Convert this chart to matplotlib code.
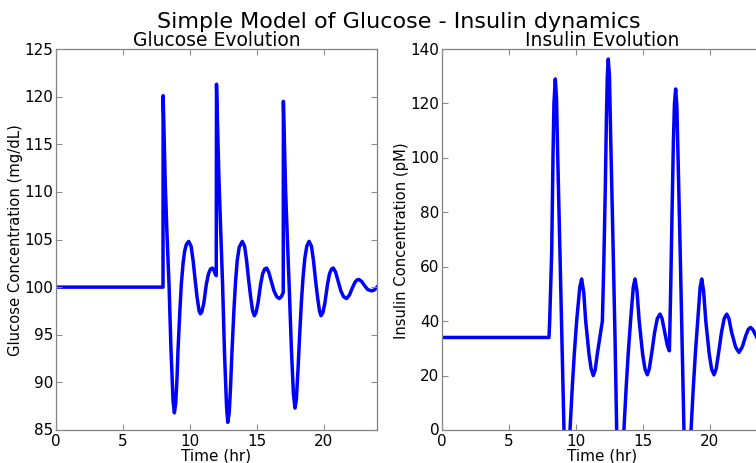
import matplotlib
matplotlib.use("Agg")
import matplotlib.pyplot as plt

# ---------------- data ----------------
glucose_t = [0.0, 8.0, 8.01, 8.17, 8.3, 8.45, 8.6, 8.75, 8.85, 8.95, 9.05, 9.12, 9.25, 9.37,
             9.5, 9.62, 9.75, 9.92, 10.1, 10.25, 10.4, 10.55, 10.7, 10.79, 10.9, 11.05,
             11.24, 11.4, 11.55, 11.69, 11.8, 11.9, 11.98, 12.0,
             12.17, 12.3, 12.45, 12.6, 12.75, 12.84, 12.95, 13.05, 13.15, 13.3, 13.42,
             13.55, 13.7, 13.93, 14.1, 14.25, 14.4, 14.55, 14.7, 14.83, 14.95, 15.1, 15.3,
             15.45, 15.6, 15.75, 15.9, 16.1, 16.3, 16.5, 16.7, 16.85, 16.99, 17.0,
             17.17, 17.3, 17.45, 17.6, 17.75, 17.87, 17.97, 18.1, 18.2, 18.35, 18.47,
             18.6, 18.75, 18.92, 19.1, 19.25, 19.4, 19.55, 19.7, 19.81, 19.95, 20.1, 20.3,
             20.45, 20.6, 20.73, 20.9, 21.1, 21.3, 21.5, 21.73, 21.95, 22.15, 22.35, 22.5,
             22.65, 22.85, 23.05, 23.3, 23.6, 23.8, 24.0]
glucose_v = [100.0, 100.0, 120.1, 110.8, 105.5, 100.3, 93.3, 88.1, 86.8, 87.8, 90.5, 93.3, 97.2, 100.3,
             102.5, 103.8, 104.5, 104.8, 104.3, 102.8, 100.8, 98.9, 97.5, 97.2, 97.4, 98.3,
             100.3, 101.4, 101.9, 102.0, 101.8, 101.4, 101.2, 121.3,
             112.0, 106.5, 100.5, 93.0, 87.5, 85.8, 86.8, 89.5, 93.0, 97.5, 100.5,
             102.8, 104.2, 104.8, 104.3, 102.8, 100.8, 99.0, 97.5, 97.0, 97.3, 98.3, 100.3,
             101.4, 101.9, 102.0, 101.6, 100.6, 99.6, 99.0, 98.8, 99.0, 99.45, 119.5,
             110.0, 105.0, 99.5, 93.5, 88.8, 87.3, 88.2, 91.5, 94.5, 98.5, 101.0,
             103.0, 104.3, 104.8, 104.3, 102.8, 100.8, 99.0, 97.5, 97.0, 97.3, 98.3, 100.3,
             101.4, 101.9, 102.0, 101.6, 100.6, 99.6, 99.0, 98.8, 99.2, 99.9, 100.5, 100.75,
             100.8, 100.6, 100.2, 99.75, 99.6, 99.7, 100.0]

insulin_t = [0.0, 8.0, 8.05, 8.2, 8.3, 8.37, 8.47, 8.56, 8.65, 8.82, 8.99, 9.12, 9.32, 9.57,
             9.74, 9.89, 10.07, 10.3, 10.44, 10.6, 10.74, 10.99, 11.15, 11.31, 11.45, 11.61,
             11.8, 11.99, 12.1, 12.21, 12.29, 12.36, 12.43, 12.52, 12.61, 12.78, 12.94, 13.06,
             13.33, 13.6, 13.77, 13.92, 14.1, 14.3, 14.43, 14.58, 14.74, 15.0, 15.18, 15.35,
             15.5, 15.7, 15.9, 16.1, 16.3, 16.45, 16.65, 16.85, 17.0, 17.1, 17.2, 17.3,
             17.38, 17.47, 17.56, 17.65, 17.82, 17.97, 18.09, 18.35, 18.62, 18.79, 18.94,
             19.12, 19.3, 19.42, 19.56, 19.72, 19.98, 20.16, 20.34, 20.5, 20.7, 20.9, 21.1,
             21.29, 21.45, 21.65, 21.95, 22.2, 22.45, 22.7, 22.9, 23.07, 23.25, 23.48, 23.7,
             24.0]
insulin_v = [34.0, 34.0, 40.0, 65.0, 101.0, 120.0, 129.0, 122.0, 101.0, 65.0, 28.0, 0.0, -14.0, 0.0,
             15.7, 27.9, 40.2, 52.4, 55.5, 50.5, 40.2, 27.9, 22.5, 20.0, 22.0, 27.9,
             34.0, 40.0, 62.0, 89.0, 114.0, 130.0, 136.3, 130.0, 108.0, 70.0, 33.0, 0.0,
             -15.0, 0.0, 15.7, 27.9, 40.2, 52.4, 55.5, 51.0, 40.2, 27.9, 22.3, 20.3,
             22.5, 29.0, 36.0, 41.0, 42.6, 41.0, 36.0, 31.0, 29.1, 52.0, 80.0, 106.0,
             120.0, 125.3, 119.0, 100.0, 63.0, 28.0, 0.0, -15.0, 0.0, 15.7, 27.9,
             40.2, 52.4, 55.5, 51.0, 40.2, 27.9, 22.3, 20.3, 22.5, 29.0, 36.0, 41.0,
             42.6, 41.0, 36.0, 30.5, 28.5, 30.5, 34.5, 37.0, 37.7, 36.8, 34.6, 32.5,
             31.0]

x_ticks = [0, 5, 10, 15, 20]
glucose_yticks = [85, 90, 95, 100, 105, 110, 115, 120, 125]
insulin_yticks = [0, 20, 40, 60, 80, 100, 120, 140]

# ---------------- figure ----------------
plt.style.use("classic")
plt.rcParams["font.family"] = ["DejaVu Sans"]

fig = plt.figure(figsize=(7.56, 4.64), dpi=100, facecolor="white")
ax1 = fig.add_axes([56 / 756, 33 / 464, 321 / 756, 381 / 464])
ax2 = fig.add_axes([442 / 756, 33 / 464, 321 / 756, 381 / 464])

line_color = "#0000ff"
ax1.plot(glucose_t, glucose_v, color=line_color, lw=2.5)
ax2.plot(insulin_t, insulin_v, color=line_color, lw=2.5)

ax1.set_xlim(0, 24)
ax1.set_ylim(85, 125)
ax2.set_xlim(0, 24)
ax2.set_ylim(0, 140)

for ax in (ax1, ax2):
    ax.set_xticks(x_ticks)
    ax.tick_params(direction="in", length=4, width=0.8, color="0.55",
                   labelsize=11, top=True, right=True, pad=2)
    for s in ax.spines.values():
        s.set_color("0.5")
        s.set_linewidth(0.9)
    ax.set_facecolor("white")
    ax.set_xlabel("Time (hr)", fontsize=11, labelpad=0)

ax1.set_yticks(glucose_yticks)
ax2.set_yticks(insulin_yticks)

ax1.set_ylabel("Glucose Concentration (mg/dL)", fontsize=10.6, labelpad=1)
ax2.set_ylabel("Insulin Concentration (pM)", fontsize=10.6, labelpad=1)
ax1.set_title("Glucose Evolution", fontsize=13.5, pad=3)
ax2.set_title("Insulin Evolution", fontsize=13.5, pad=3)

fig.suptitle("Simple Model of Glucose - Insulin dynamics", fontsize=16, x=0.528, y=0.975)

fig.savefig("out.png", dpi=100, facecolor="white")
